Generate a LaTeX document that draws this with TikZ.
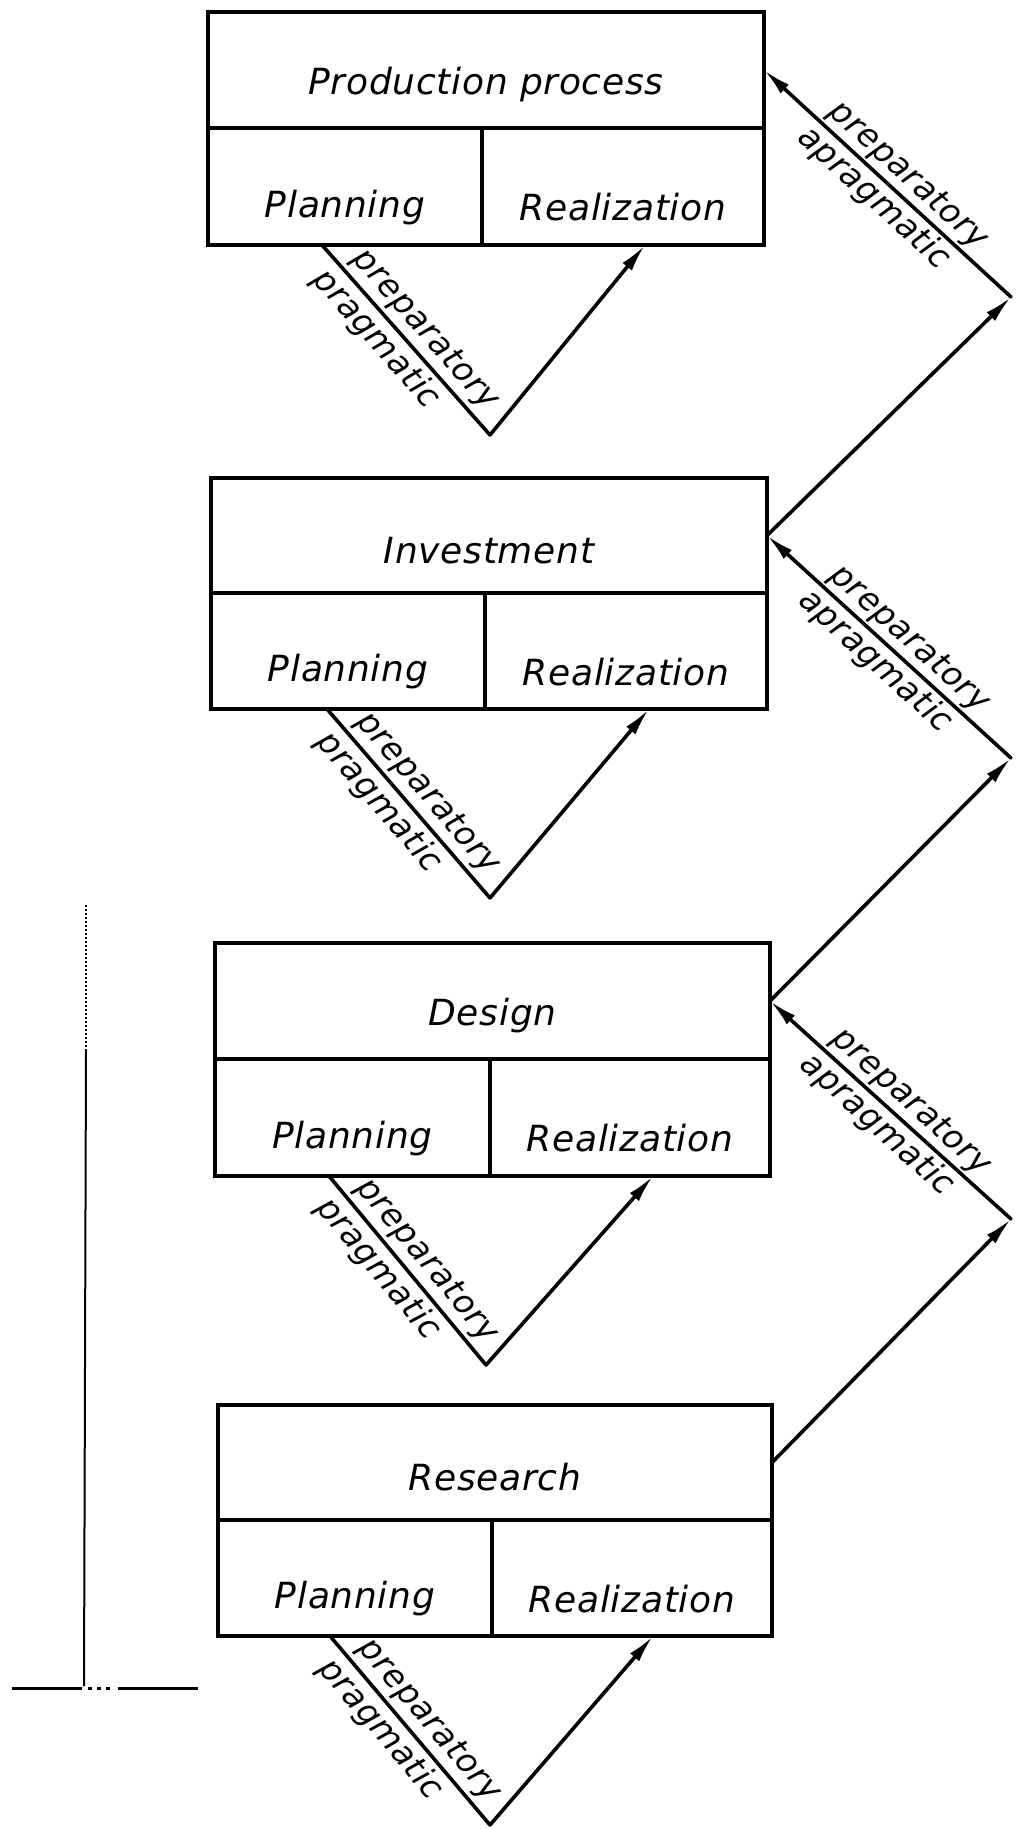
\documentclass[tikz,border=0pt]{standalone}
\usepackage{fontspec}
\setmainfont{DejaVu Sans}[LetterSpace=2]
\usetikzlibrary{arrows.meta}
\newcommand{\lowtitle}[1]{\raisebox{-15pt}[\height][\depth]{#1}}
\newcommand{\lowtxt}[1]{\raisebox{-21pt}[\height][\depth]{#1}}
\tikzset{
  cell/.style={draw, line width=3.6pt, inner sep=0pt, outer sep=0pt, anchor=north west,
    font=\fontsize{36}{40}\selectfont\itshape},
  conn/.style={line width=3.6pt, line cap=round},
  arr/.style={conn, -{Latex[length=28pt,width=12pt]}},
  lab/.style={sloped, font=\fontsize{33}{38}\selectfont\itshape, inner sep=4pt},
  faint/.style={line width=2pt},
}
\begin{document}
\begin{tikzpicture}[x=1pt,y=-1pt]
\useasboundingbox (0,0) rectangle (1015,1829);
% ---- boxes ----
\node[cell, minimum width=556pt, minimum height=116pt] (t1) at (208,12) {\lowtitle{Production process}};
\node[cell, minimum width=274pt, minimum height=117pt] (p1) at (208,128) {\lowtxt{Planning}};
\node[cell, minimum width=282pt, minimum height=117pt] (r1) at (482,128) {\lowtxt{Realization}};

\node[cell, minimum width=556pt, minimum height=115pt] (t2) at (211,478) {\lowtitle{Investment}};
\node[cell, minimum width=274pt, minimum height=116pt] (p2) at (211,593) {\lowtxt{Planning}};
\node[cell, minimum width=282pt, minimum height=116pt] (r2) at (485,593) {\lowtxt{Realization}};

\node[cell, minimum width=555pt, minimum height=116pt] (t3) at (215,943) {\lowtitle{Design}};
\node[cell, minimum width=275pt, minimum height=117pt] (p3) at (215,1059) {\lowtxt{Planning}};
\node[cell, minimum width=280pt, minimum height=117pt] (r3) at (490,1059) {\lowtxt{Realization}};

\node[cell, minimum width=554pt, minimum height=115pt] (t4) at (218,1405) {\lowtitle{Research}};
\node[cell, minimum width=274pt, minimum height=116pt] (p4) at (218,1520) {\lowtxt{Planning}};
\node[cell, minimum width=280pt, minimum height=116pt] (r4) at (492,1520) {\lowtxt{Realization}};

% ---- V loops under each box ----
\coordinate (b1) at (490,435);
\coordinate (b2) at (490,898);
\coordinate (b3) at (486,1365);
\coordinate (b4) at (490,1825);

\foreach \i/\s/\e in {1/114/163, 2/116/164, 3/114/163, 4/112/161}{
  \draw[conn] ([xshift=\s pt]p\i.south west) -- (b\i)
     node[lab, pos=0.52, above] {preparatory}
     node[lab, pos=0.42, below] {pragmatic};
  \draw[arr] (b\i) -- ([xshift=\e pt]r\i.south west);
}

% ---- right zig-zag ----
\coordinate (A) at (1011,1219);
\coordinate (B) at (1011,758);
\coordinate (C) at (1011,297);

\draw[arr] (t4.east) -- (A);
\draw[arr] (A) -- (t3.east);
\draw[arr] (t3.east) -- (B);
\draw[arr] (B) -- (t2.east);
\draw[arr] (t2.east) -- (C);
\draw[arr] (C) -- (t1.east);

\path (t3.east) -- (A) node[lab, pos=0.53, above] {preparatory} node[lab, pos=0.5, below] {apragmatic};
\path (t2.east) -- (B) node[lab, pos=0.53, above] {preparatory} node[lab, pos=0.5, below] {apragmatic};
\path (t1.east) -- (C) node[lab, pos=0.53, above] {preparatory} node[lab, pos=0.5, below] {apragmatic};

% ---- left margin line ----
\coordinate (vt) at (86,905);
\coordinate (vm) at (86,1050);
\coordinate (vb) at (84,1686);
\coordinate (hl) at (12,1688);
\coordinate (hr) at (198,1688);
\draw[faint, dotted] (vt) -- (vm);
\draw[faint] (vm) -- (vb);
\draw[line width=3pt, dash pattern=on 70pt off 6pt on 4pt off 5pt on 4pt off 5pt on 4pt off 8pt on 90pt] (hl) -- (hr);
\end{tikzpicture}
\end{document}
